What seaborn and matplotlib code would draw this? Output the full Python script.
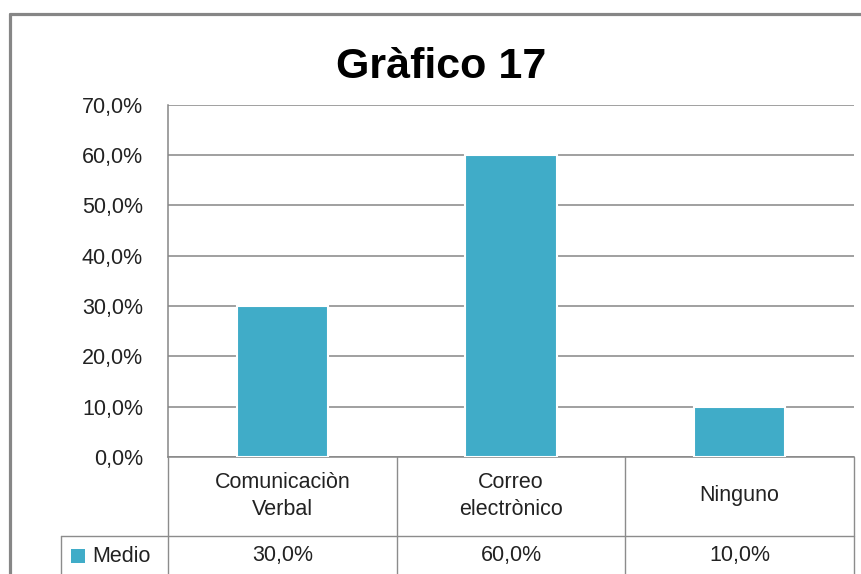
import matplotlib
matplotlib.use('Agg')
import matplotlib.pyplot as plt
from matplotlib.lines import Line2D
from matplotlib.patches import Rectangle
from matplotlib.ticker import FuncFormatter, MultipleLocator
import seaborn as sns

# datos del gráfico
categorias = ['Comunicaciòn\nVerbal', 'Correo\nelectrònico', 'Ninguno']
medio = [30.0, 60.0, 10.0]
serie = 'Medio'
titulo = 'Gràfico 17'

sns.set_style('white')
plt.rcParams['font.family'] = ['Liberation Sans Narrow', 'Liberation Sans', 'DejaVu Sans']

azul = '#40acc8'
gris = '#868686'

fig = plt.figure(figsize=(8.62, 5.74), dpi=100)
W, H = 862, 574
ax = fig.add_axes([168 / W, (H - 457) / H, (854 - 168) / W, (457 - 104.5) / H])

sns.barplot(x=list(range(len(medio))), y=medio, color=azul, width=0.4,
            edgecolor='white', linewidth=1.5, saturation=1, ax=ax, zorder=3)

ax.set_xlim(-0.5, len(medio) - 0.5)
ax.set_ylim(0, 70)
ax.yaxis.set_major_locator(MultipleLocator(10))
ax.yaxis.set_major_formatter(FuncFormatter(lambda v, p: f'{v:.1f}%'.replace('.', ',')))
ax.set_xticks([])
ax.tick_params(axis='y', length=0, pad=18, labelsize=15.5, labelcolor='#222222')
ax.grid(axis='y', color=gris, linewidth=1.1, zorder=0)
ax.set_axisbelow(True)
for s in ['top', 'right']:
    ax.spines[s].set_visible(False)
ax.spines['left'].set_color(gris)
ax.spines['left'].set_linewidth(1.1)
ax.spines['bottom'].set_color(gris)
ax.spines['bottom'].set_linewidth(1.1)

# título
fig.text(441 / W, 1 - 67 / H, titulo, ha='center', va='center',
         fontsize=31, fontweight='bold', color='black')

# tabla de datos (debajo del eje)
to_fig = lambda x: fig.transFigure.inverted().transform(ax.transData.transform((x, 0)))[0]
bordes = [to_fig(i - 0.5) for i in range(len(medio) + 1)]
y_top = 1 - 457 / H
y_mid = 1 - 536 / H
x_leg = 61 / W
lc = '#8c8c8c'
for xb in bordes:
    fig.add_artist(Line2D([xb, xb], [y_top, 0], color=lc, linewidth=1.0))
fig.add_artist(Line2D([x_leg, bordes[-1]], [y_mid, y_mid], color=lc, linewidth=1.0))
fig.add_artist(Line2D([x_leg, x_leg], [y_mid, 0], color=lc, linewidth=1.0))

for i, (cat, val) in enumerate(zip(categorias, medio)):
    xc = (bordes[i] + bordes[i + 1]) / 2
    fig.text(xc, 1 - 496 / H, cat, ha='center', va='center', fontsize=15.5,
             linespacing=1.35, color='#222222')
    fig.text(xc, 1 - 556 / H, f'{val:.1f}%'.replace('.', ','), ha='center',
             va='center', fontsize=15.5, color='#222222')

# clave de leyenda
fig.add_artist(Rectangle((71 / W, 1 - 563 / H), 14 / W, 14 / H,
                         facecolor=azul, edgecolor='none'))
fig.text(92 / W, 1 - 556 / H, serie, ha='left', va='center', fontsize=15.5,
         color='#222222')

# marco exterior
fig.add_artist(Line2D([10 / W, 10 / W], [0, 1 - 14 / H], color=gris, linewidth=2.3))
fig.add_artist(Line2D([10 / W, 1], [1 - 14 / H, 1 - 14 / H], color=gris, linewidth=2.3))

fig.savefig('out.png', dpi=100)
